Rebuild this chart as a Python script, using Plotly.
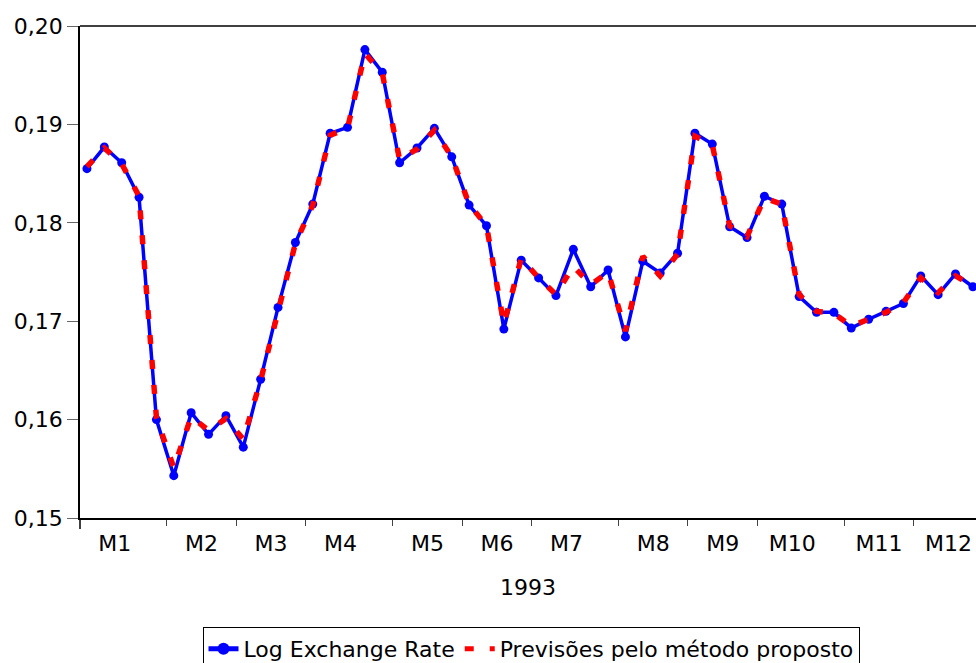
import plotly.graph_objects as go
import numpy as np

# Weekly log exchange rate, 1993, and the forecasts from the proposed method
log_rate = [0.1855, 0.1877, 0.1861, 0.1826, 0.1600, 0.1543, 0.1607, 0.1585, 0.1604, 0.1572,
            0.1641, 0.1714, 0.1780, 0.1819, 0.1891, 0.1897, 0.1976, 0.1953, 0.1861, 0.1876,
            0.1896, 0.1867, 0.1818, 0.1797, 0.1692, 0.1762, 0.1744, 0.1726, 0.1773, 0.1735,
            0.1752, 0.1684, 0.1761, 0.1749, 0.1769, 0.1891, 0.1880, 0.1796, 0.1785, 0.1827,
            0.1819, 0.1725, 0.1709, 0.1709, 0.1693, 0.1702, 0.1710, 0.1718, 0.1746, 0.1727,
            0.1748, 0.1735]
forecast = [0.1857, 0.1876, 0.1860, 0.1827, 0.1602, 0.1551, 0.1603, 0.1589, 0.1601, 0.1580,
            0.1640, 0.1712, 0.1779, 0.1818, 0.1889, 0.1896, 0.1972, 0.1952, 0.1864, 0.1875,
            0.1894, 0.1867, 0.1819, 0.1797, 0.1697, 0.1764, 0.1744, 0.1727, 0.1756, 0.1737,
            0.1750, 0.1690, 0.1766, 0.1746, 0.1768, 0.1888, 0.1879, 0.1797, 0.1786, 0.1825,
            0.1819, 0.1727, 0.1710, 0.1708, 0.1695, 0.1702, 0.1709, 0.1719, 0.1744, 0.1729,
            0.1746, 0.1736]

month_labels = ["M1", "M2", "M3", "M4", "M5", "M6", "M7", "M8", "M9", "M10", "M11", "M12"]
weeks_per_month = [5, 4, 4, 5, 4, 4, 5, 4, 4, 5, 4, 4]
y_ticks = [0.15, 0.16, 0.17, 0.18, 0.19, 0.20]
year_label = "1993"

weeks = np.arange(len(log_rate))
x_origin = -0.4
month_starts = x_origin + np.concatenate([[0], np.cumsum(weeks_per_month)[:-1]])
label_pos = month_starts + 2

FONT = "DejaVu Sans"
fs = 22
W, H = 976, 663

fig = go.Figure()
fig.add_trace(go.Scatter(
    x=weeks, y=log_rate, mode="lines+markers", name="Log Exchange Rate",
    line=dict(color="#0000FF", width=3.5),
    marker=dict(color="#0000FF", size=9, symbol="circle"),
))
fig.add_trace(go.Scatter(
    x=weeks, y=forecast, mode="lines", name="Previsões pelo método proposto",
    line=dict(color="#FF0000", width=5.5, dash="9px,16px"),
))

fig.update_layout(
    width=W, height=H,
    margin=dict(l=80, r=0, t=26, b=145, autoexpand=False),
    paper_bgcolor="white", plot_bgcolor="white",
    separators=",.",
    font=dict(family=FONT, size=fs, color="black"),
    showlegend=True,
    legend=dict(
        orientation="h", xref="container", yref="container",
        x=531 / W, xanchor="center", y=1 - 627 / H, yanchor="top",
        bordercolor="black", borderwidth=1, bgcolor="white",
        font=dict(family=FONT, size=22, color="black"),
        itemsizing="constant", tracegroupgap=0,
    ),
    xaxis=dict(
        range=[x_origin, 51.18], automargin=False,
        tickmode="array", tickvals=label_pos, ticktext=month_labels,
        ticks="outside", ticklen=5, tickcolor="rgba(0,0,0,0)",
        minor=dict(tickmode="array", tickvals=month_starts[1:], ticks="outside",
                   ticklen=6, tickcolor="#444", tickwidth=1),
        showline=True, linecolor="black", linewidth=1.5,
        showgrid=False, zeroline=False,
        title=dict(text=year_label, font=dict(family=FONT, size=fs), standoff=24),
        tickfont=dict(family=FONT, size=fs),
    ),
    yaxis=dict(
        range=[0.15, 0.20], automargin=False,
        tickmode="array", tickvals=y_ticks, tickformat=".2f",
        ticks="outside", ticklen=11, tickcolor="#666", tickwidth=1,
        showline=True, linecolor="black", linewidth=1.5,
        showgrid=False, zeroline=False,
        tickfont=dict(family=FONT, size=fs),
    ),
    shapes=[
        dict(type="line", xref="paper", yref="paper", x0=0, x1=1, y0=1, y1=1,
             line=dict(color="black", width=1.5)),
        dict(type="line", xref="paper", yref="paper", x0=0, x1=0, y0=0, y1=-11 / 492,
             line=dict(color="black", width=1.5)),
    ],
)

fig.write_html("out.html")
